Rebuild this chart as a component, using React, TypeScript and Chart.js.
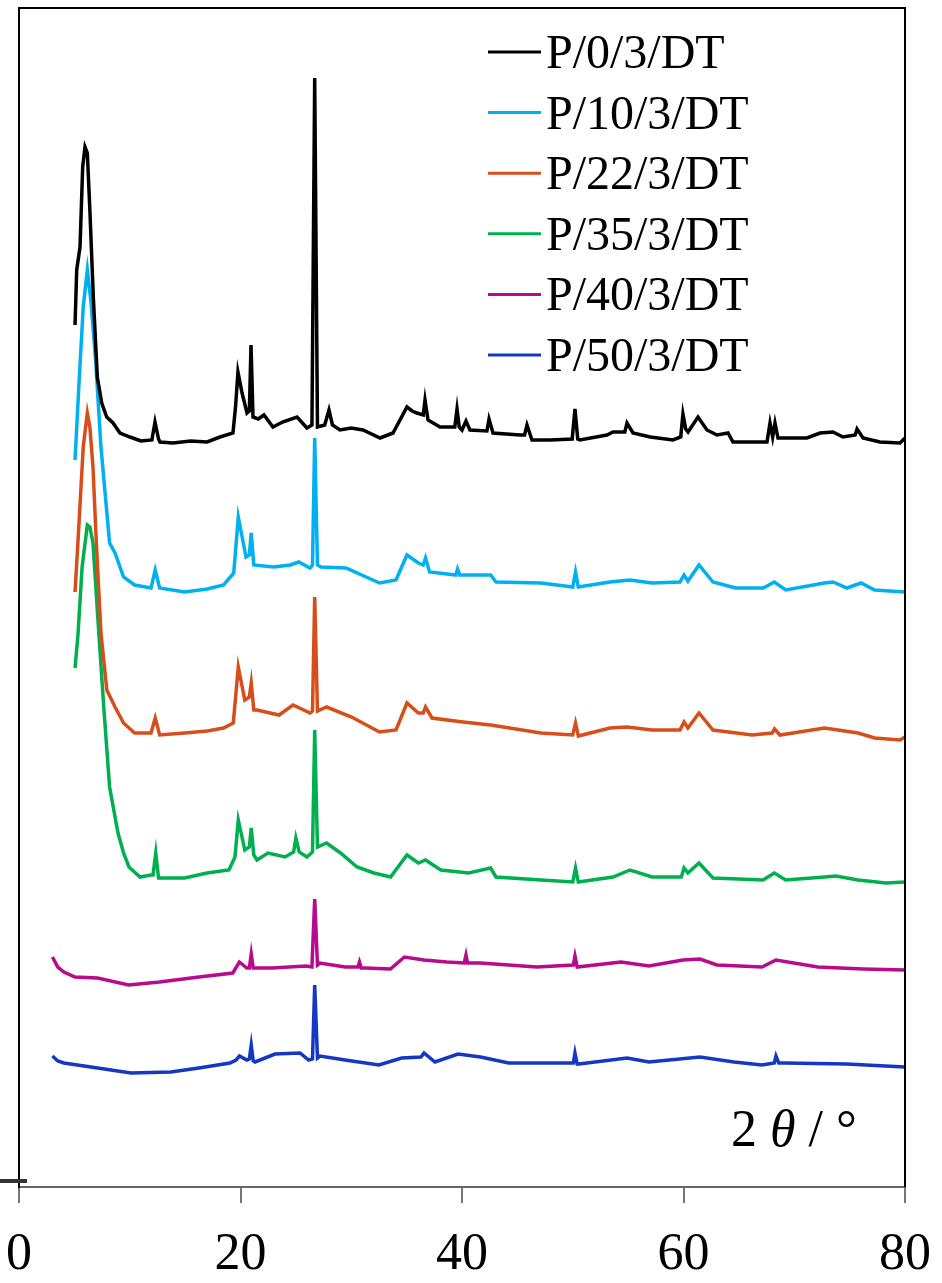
import React, { useEffect, useRef } from "react";
import { Chart, registerables } from "chart.js";

Chart.register(...registerables);

// ---- data (2θ in degrees, stacked intensity in arbitrary units) ----
const X_TICKS = [0, 20, 40, 60, 80];
const SERIES_LABELS = ["P/0/3/DT", "P/10/3/DT", "P/22/3/DT", "P/35/3/DT", "P/40/3/DT", "P/50/3/DT"];
const SERIES_COLORS = ["#000000", "#00B0F0", "#D84E1A", "#00B050", "#B80A8C", "#1438C4"];

const P0: number[][] = [[5.06,862],[5.21,917],[5.51,940],[5.75,1020],[5.96,1040],[6.17,1034],[6.41,974],[6.71,890],[7.07,810],[7.47,784],[7.92,770],[8.49,764],[9.12,754],[10.02,750],[11.0,746],[12.0,747],[12.28,765],[12.6,748],[12.73,745],[13.9,744],[15.5,746],[16.98,745],[18.15,750],[19.32,754],[19.55,780],[19.77,815],[20.14,794],[20.59,774],[20.8,776],[20.95,842],[21.13,770],[21.6,768],[22.12,772],[22.93,760],[23.8,765],[25.1,770],[26.0,759],[26.45,762],[26.7,1109],[26.95,760],[27.6,762],[27.99,777],[28.3,762],[28.98,757],[30.0,759],[31.06,757],[32.6,749],[33.77,754],[35.03,780],[35.5,776],[35.94,774],[36.5,772],[36.66,787],[36.93,767],[38.01,760],[39.35,760],[39.55,778],[39.75,760],[40.0,757],[40.36,766],[40.72,757],[42.25,756],[42.44,768],[42.8,754],[45.24,752],[45.65,752],[45.87,762],[46.32,747],[47.95,747],[49.95,748],[50.2,778],[50.45,748],[50.65,747],[53.09,752],[53.63,755],[54.7,755],[54.9,764],[55.44,754],[57.0,750],[59.05,747],[59.75,750],[59.95,773],[60.2,758],[60.41,755],[61.31,770],[62.12,757],[63.02,752],[64.02,754],[64.47,745],[67.54,745],[67.81,764],[68.05,750],[68.26,764],[68.53,749],[71.15,749],[72.33,754],[73.5,755],[74.4,750],[75.5,752],[75.67,758],[76.21,749],[77.74,745],[79.55,744],[80.0,749]];

const P10: number[][] = [[5.06,727],[5.4,800],[5.8,880],[6.17,917],[6.5,885],[6.92,827],[7.4,740],[8.18,644],[8.67,634],[9.44,610],[10.44,602],[11.92,599],[12.3,617],[12.7,599],[14.96,595],[17.0,598],[18.47,602],[19.39,614],[19.8,670],[20.5,630],[20.8,632],[20.97,654],[21.2,622],[23.0,620],[24.5,622],[25.26,625],[26.28,619],[26.5,622],[26.7,749],[26.95,622],[27.27,620],[29.53,619],[32.55,604],[34.04,607],[35.03,632],[36.06,624],[36.5,622],[36.71,629],[37.07,615],[39.45,612],[39.6,618],[39.8,612],[42.59,612],[43.07,605],[47.13,604],[50.0,600],[50.25,615],[50.5,600],[53.36,605],[55.17,607],[57.16,604],[59.68,605],[60.05,612],[60.4,606],[61.4,622],[62.66,605],[64.7,599],[67.21,599],[68.2,605],[69.23,597],[72.74,604],[73.5,605],[74.76,599],[76.03,604],[77.26,597],[80.0,595]];

const P22: number[][] = [[5.06,595],[5.4,660],[5.8,740],[6.17,774],[6.4,760],[6.68,720],[7.0,640],[7.4,554],[7.93,497],[8.67,480],[9.44,464],[10.44,454],[11.92,454],[12.3,469],[12.7,452],[14.96,454],[17.0,456],[18.47,459],[19.35,464],[19.8,520],[20.39,487],[20.8,490],[20.97,504],[21.2,477],[21.49,477],[23.48,472],[24.74,482],[26.28,474],[26.5,476],[26.7,590],[26.95,476],[27.77,480],[30.03,470],[32.55,455],[34.04,457],[35.03,484],[36.06,474],[36.5,474],[36.71,480],[37.29,469],[40.09,465],[42.59,462],[47.13,454],[50.0,452],[50.25,464],[50.5,451],[53.36,459],[54.9,460],[57.16,457],[59.68,457],[60.05,465],[60.4,459],[61.4,474],[62.66,457],[66.19,452],[68.0,454],[68.22,458],[68.71,452],[72.74,459],[75.76,454],[77.26,449],[79.55,447],[80.0,450]];

const P35: number[][] = [[5.06,519],[5.31,550],[5.7,620],[6.17,662],[6.4,660],[6.68,644],[7.17,560],[7.67,477],[8.18,400],[8.94,354],[9.44,334],[9.93,320],[10.93,310],[11.92,312],[12.1,312],[12.35,334],[12.6,309],[14.96,309],[16.98,314],[18.96,317],[19.5,330],[19.8,367],[20.39,337],[20.8,340],[20.97,359],[21.2,332],[21.49,327],[22.48,334],[24.02,330],[24.8,335],[25.0,349],[25.3,335],[26.0,330],[26.5,335],[26.7,457],[26.95,340],[27.77,344],[29.03,334],[30.52,320],[32.05,314],[33.55,310],[35.03,332],[36.06,324],[36.71,327],[38.08,317],[40.59,314],[42.59,319],[43.07,310],[47.13,307],[50.0,305],[50.25,319],[50.5,305],[53.63,310],[55.17,317],[57.16,310],[59.8,310],[60.05,319],[60.4,314],[61.4,324],[62.66,309],[67.18,307],[68.2,314],[69.23,307],[72.74,310],[73.75,311],[75.76,307],[78.28,304],[80.0,305]];

const P40: number[][] = [[3.02,230],[3.5,220],[4.05,215],[5.06,210],[7.1,209],[9.89,202],[12.69,205],[16.25,210],[19.3,214],[19.9,225],[20.57,219],[20.8,219],[20.97,233],[21.15,219],[22.84,219],[25.91,221],[26.45,220],[26.7,288],[26.95,222],[27.18,224],[29.44,220],[30.6,220],[30.74,225],[30.9,219],[31.24,219],[33.54,218],[34.8,230],[36.57,227],[38.62,225],[40.2,224],[40.36,232],[40.5,224],[41.67,224],[44.21,222],[46.74,220],[50.05,222],[50.2,231],[50.4,220],[54.36,225],[56.88,221],[59.95,227],[61.49,228],[63.02,222],[67.09,220],[68.35,227],[72.14,220],[76.21,218],[80.0,217]];

const P50: number[][] = [[3.02,131],[3.5,126],[4.05,124],[7.1,119],[10.11,114],[13.71,115],[16.25,119],[19.05,124],[19.6,127],[19.91,131],[20.57,127],[20.8,128],[20.97,142],[21.15,126],[21.31,125],[23.12,133],[25.37,134],[26.16,127],[26.5,128],[26.7,202],[26.95,129],[27.18,131],[29.44,127],[32.5,122],[34.55,129],[36.3,130],[36.57,134],[37.56,125],[39.64,133],[41.67,130],[44.21,124],[47.77,124],[50.05,124],[50.2,134],[50.4,123],[50.56,123],[54.9,129],[56.88,125],[61.49,130],[64.56,125],[67.09,122],[68.2,124],[68.35,131],[68.6,124],[69.12,124],[74.71,123],[80.0,120]];

const Y_MIN = 0;
const Y_MAX = 1179;
const STRAY_TICK_VALUE = 6;
const AXIS_TITLE_PARTS = [
  { text: "2 ", italic: false },
  { text: "θ", italic: true },
  { text: " / °", italic: false },
];

const SERIF = '"Liberation Serif", "Times New Roman", serif';

const framePlugin = {
  id: "frame",
  afterDraw(chart: any) {
    const { ctx, chartArea } = chart;
    const { left, right, top, bottom } = chartArea;
    ctx.save();
    // top and right frame lines
    ctx.strokeStyle = "#000";
    ctx.lineWidth = 2;
    ctx.beginPath();
    ctx.moveTo(left, top);
    ctx.lineTo(right, top);
    ctx.lineTo(right, bottom);
    ctx.stroke();

    // stray y tick at the left
    const yS = chart.scales.y;
    const ty = yS.getPixelForValue(STRAY_TICK_VALUE);
    ctx.strokeStyle = "#333";
    ctx.lineWidth = 4;
    ctx.beginPath();
    ctx.moveTo(0, ty);
    ctx.lineTo(left + 8, ty);
    ctx.stroke();

    // legend
    const lx0 = left + 469;
    const lx1 = left + 522;
    const ly0 = top + 44;
    const step = 60.6;
    ctx.font = `48px ${SERIF}`;
    ctx.textBaseline = "alphabetic";
    ctx.textAlign = "left";
    chart.data.datasets.forEach((ds: any, i: number) => {
      const y = ly0 + i * step;
      ctx.strokeStyle = ds.borderColor;
      ctx.lineWidth = 3;
      ctx.beginPath();
      ctx.moveTo(lx0, y);
      ctx.lineTo(lx1, y);
      ctx.stroke();
      ctx.fillStyle = "#000";
      ctx.fillText(ds.label, lx1 + 5, y + 16);
    });

    // axis title inside plot area
    let x = right - 174;
    const by = bottom - 41;
    AXIS_TITLE_PARTS.forEach((p) => {
      ctx.font = `${p.italic ? "italic " : ""}52px ${SERIF}`;
      ctx.fillStyle = "#000";
      ctx.fillText(p.text, x, by);
      x += ctx.measureText(p.text).width;
    });
    ctx.restore();
  },
};

export default function App() {
  const ref = useRef<HTMLCanvasElement>(null);
  useEffect(() => {
    const series = [P0, P10, P22, P35, P40, P50];
    const chart = new Chart(ref.current as HTMLCanvasElement, {
      type: "line",
      data: {
        datasets: series.map((s, i) => ({
          label: SERIES_LABELS[i],
          data: s.map(([x, y]) => ({ x, y })),
          borderColor: SERIES_COLORS[i],
          backgroundColor: SERIES_COLORS[i],
          borderWidth: 3.5,
          pointRadius: 0,
          tension: 0,
          fill: false,
        })),
      },
      options: {
        responsive: false,
        animation: false,
        devicePixelRatio: 1,
        layout: { padding: { top: 8, right: 37, left: 0, bottom: 0 } },
        plugins: { legend: { display: false }, tooltip: { enabled: false } },
        scales: {
          x: {
            type: "linear",
            min: 0,
            max: 80,
            afterBuildTicks: (s: any) => {
              s.ticks = X_TICKS.map((v) => ({ value: v }));
            },
            afterFit: (s: any) => {
              s.height = 96;
              s.paddingLeft = 0;
              s.paddingRight = 0;
            },
            ticks: {
              font: { family: SERIF, size: 52 },
              color: "#000",
              padding: 21,
              maxRotation: 0,
              autoSkip: false,
            },
            grid: {
              drawOnChartArea: false,
              drawTicks: true,
              tickLength: 16,
              color: "#777",
              lineWidth: 2,
            },
            border: { color: "#666", width: 2 },
          },
          y: {
            type: "linear",
            min: Y_MIN,
            max: Y_MAX,
            afterFit: (s: any) => {
              s.width = 19;
            },
            ticks: { display: false },
            grid: { display: false },
            border: { color: "#000", width: 2 },
          },
        },
      } as any,
      plugins: [framePlugin],
    });
    return () => chart.destroy();
  }, []);

  return (
    <div style={{ position: "absolute", left: 0, top: 0, width: 942, height: 1283, background: "#fff" }}>
      <canvas ref={ref} width={942} height={1283} style={{ display: "block" }} />
    </div>
  );
}
